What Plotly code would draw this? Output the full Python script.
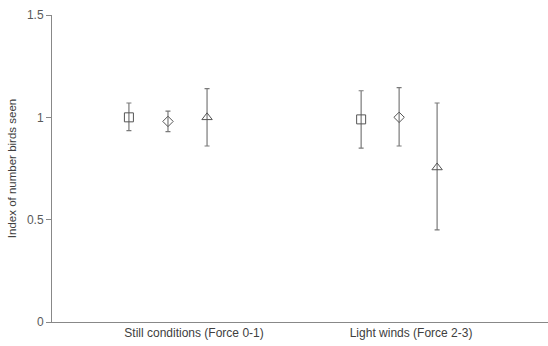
import plotly.graph_objects as go

categories = ["Still conditions (Force 0-1)", "Light winds (Force 2-3)"]
cat_pos = [1.0, 2.0]
# series: square, diamond, triangle
x_square = [0.70, 1.77]
x_diamond = [0.88, 1.945]
x_triangle = [1.06, 2.12]
y_square = [1.00, 0.99]
y_diamond = [0.98, 1.00]
y_triangle = [1.00, 0.755]
up_square = [0.07, 0.14]
dn_square = [0.065, 0.14]
up_diamond = [0.05, 0.145]
dn_diamond = [0.05, 0.14]
up_triangle = [0.14, 0.315]
dn_triangle = [0.14, 0.305]

fig = go.Figure()
for xs, ys, up, dn, sym, sz in [
    (x_square, y_square, up_square, dn_square, "square-open", 9),
    (x_diamond, y_diamond, up_diamond, dn_diamond, "diamond-open", 8),
    (x_triangle, y_triangle, up_triangle, dn_triangle, "triangle-up-open", 9),
]:
    fig.add_trace(go.Scatter(
        x=xs, y=ys, mode="markers",
        marker=dict(symbol=sym, size=sz, color="#555555", line=dict(width=1, color="#555555")),
        error_y=dict(type="data", symmetric=False, array=up, arrayminus=dn,
                     color="#7a7a7a", thickness=1.2, width=2.5),
        showlegend=False,
    ))

fig.update_layout(
    width=548, height=346,
    margin=dict(l=52, r=0, t=15, b=24),
    paper_bgcolor="white", plot_bgcolor="white",
    font=dict(family="Liberation Sans, Arial, sans-serif", size=12, color="#404040"),
    xaxis=dict(range=[0.3456, 2.631], tickvals=cat_pos, ticktext=categories,
               showline=True, linecolor="#888888", linewidth=1, ticks="",
               showgrid=False, zeroline=False, tickfont=dict(size=12, color="#404040")),
    yaxis=dict(range=[0, 1.5], tickvals=[0, 0.5, 1, 1.5], ticktext=["0", "0.5", "1", "1.5"],
               showline=True, linecolor="#888888", linewidth=1, ticks="outside",
               ticklen=5, tickcolor="#888888", showgrid=False, zeroline=False,
               title=dict(text="Index of number birds seen", standoff=7,
                          font=dict(size=11.5, color="#404040")),
               tickfont=dict(size=12, color="#595959")),
)
fig.write_html("out.html")
